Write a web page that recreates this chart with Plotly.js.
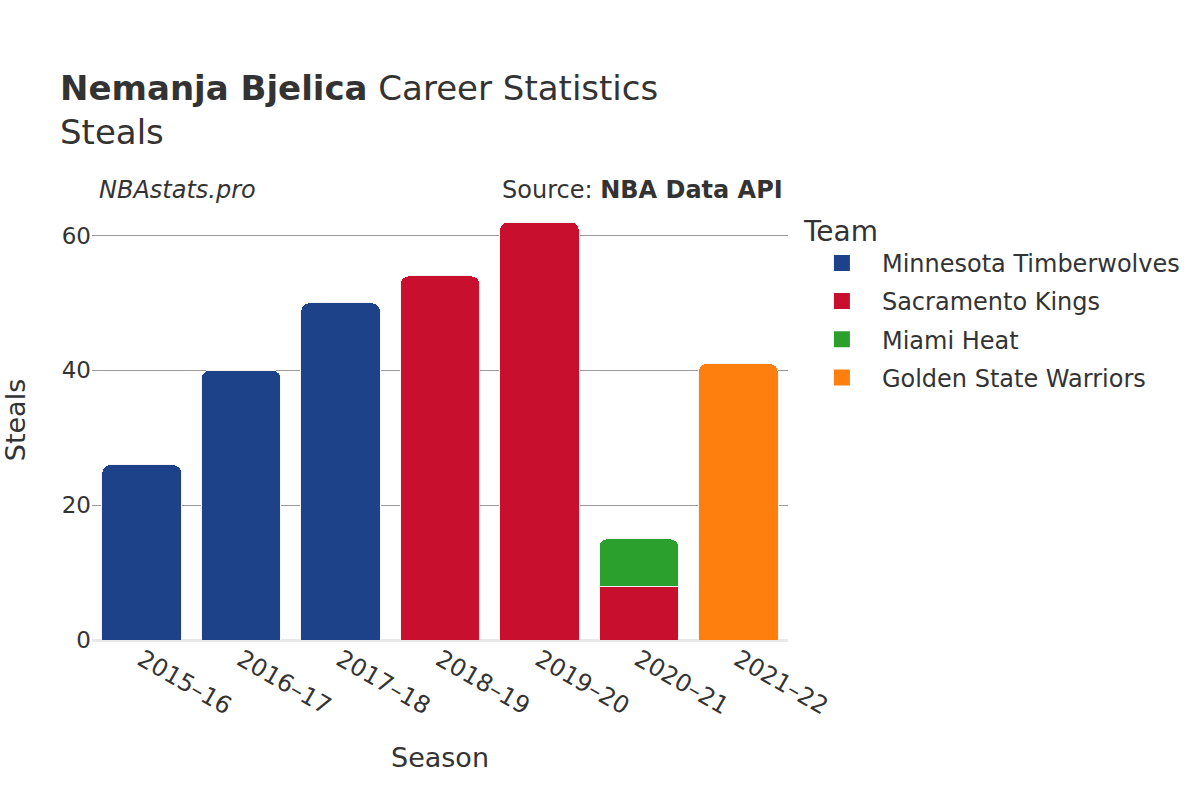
<!DOCTYPE html>
<html>
<head>
<meta charset="utf-8">
<script src="https://cdn.plot.ly/plotly-3.0.1.min.js"></script>
<style>html,body{margin:0;padding:0;background:#fff}#chart{width:1200px;height:800px}</style>
</head>
<body>
<div id="chart"></div>
<script>
const seasons = ["2015–16","2016–17","2017–18","2018–19","2019–20","2020–21","2021–22"];
const teams = ["Minnesota Timberwolves","Sacramento Kings","Miami Heat","Golden State Warriors"];
const teamColors = ["#1D428A","#C8102E","#2CA02C","#FF7F0E"];
const timberwolvesSteals = [26, 40, 50, null, null, null, null];
const kingsSteals = [null, null, null, 54, 62, 8, null];
const heatSteals = [null, null, null, null, null, 7, null];
const warriorsSteals = [null, null, null, null, null, null, 41];
const seriesValues = [timberwolvesSteals, kingsSteals, heatSteals, warriorsSteals];

const font = "DejaVu Sans, sans-serif";
const data = teams.map((t, i) => ({
  type: "bar",
  name: t,
  legendgroup: t,
  showlegend: false,
  x: seasons,
  y: seriesValues[i],
  marker: {color: teamColors[i], line: {color: "#f4f4f4", width: 1}},
  hovertemplate: "%{x}: %{y}<extra>" + t + "</extra>"
}));
// legend entries with larger square swatches
teams.forEach((t, i) => data.push({
  type: "scatter", mode: "markers", name: t, legendgroup: t,
  x: [null], y: [null],
  marker: {symbol: "square", size: 22, color: teamColors[i], line: {width: 0}},
  hoverinfo: "skip"
}));

const layout = {
  width: 1200, height: 800,
  barmode: "stack",
  bargap: 0.2,
  barcornerradius: 8,
  paper_bgcolor: "#fff", plot_bgcolor: "#fff",
  font: {family: font, color: "#333", size: 22},
  margin: {l: 92, r: 412, t: 200, b: 160},
  title: {
    text: "<b>Nemanja Bjelica</b> Career Statistics<br>Steals",
    x: 0.05, xanchor: "left", y: 0.875, yanchor: "top",
    font: {family: font, size: 34, color: "#333"}
  },
  xaxis: {
    type: "category",
    tickangle: 30,
    tickfont: {size: 24, color: "#333"},
    title: {text: "Season", font: {size: 27, color: "#333"}, standoff: 28},
    showgrid: false,
    ticks: "",
    fixedrange: true
  },
  yaxis: {
    title: {text: "Steals", font: {size: 27, color: "#333"}, standoff: 30},
    tickfont: {size: 23, color: "#333"},
    gridcolor: "#999", gridwidth: 1,
    ticks: "",
    zeroline: true, zerolinecolor: "#e8e8e8", zerolinewidth: 3,
    dtick: 20
  },
  legend: {
    title: {text: "Team", font: {size: 28, color: "#333"}},
    traceorder: "grouped",
    x: 1.02, xanchor: "left", y: 0.99, yanchor: "top",
    font: {size: 24, color: "#333"},
    itemsizing: "trace",
    itemwidth: 70,
    tracegroupgap: 4
  },
  annotations: [
    {text: "<i>NBAstats.pro</i>", xref: "paper", yref: "paper", x: 0.007, y: 1.0, xanchor: "left", yanchor: "bottom", yshift: -6, showarrow: false, font: {size: 24, color: "#333"}},
    {text: "Source: <b>NBA Data API</b>", xref: "paper", yref: "paper", x: 0.995, y: 1.0, xanchor: "right", yanchor: "bottom", yshift: -6, showarrow: false, font: {size: 24, color: "#333"}}
  ]
};

Plotly.newPlot("chart", data, layout, {displayModeBar: false});
</script>
</body>
</html>
